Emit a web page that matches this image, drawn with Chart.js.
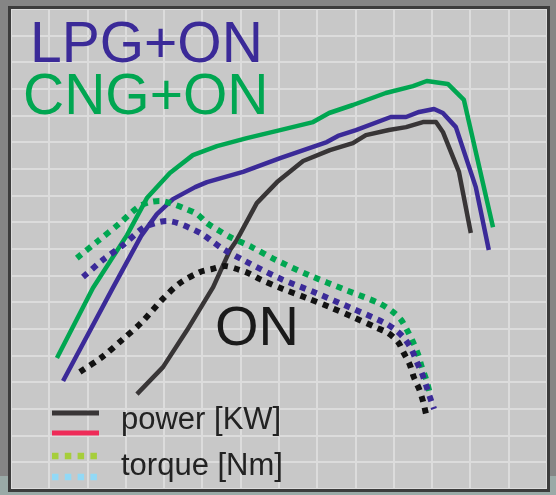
<!DOCTYPE html>
<html>
<head>
<meta charset="utf-8">
<script src="https://cdn.jsdelivr.net/npm/chart.js@4"></script>
<style>
  html, body { margin: 0; padding: 0; background: #858585; }
  canvas { display: block; }
</style>
</head>
<body>
<canvas id="c" width="556" height="495"></canvas>
<script>
// Values in grid units (x: 14 columns, y: 18 rows)
const cngPowerX = [1.20, 2.14, 3.03, 3.55, 4.15, 4.75, 5.38, 6.16, 7.03, 7.89, 8.31, 8.93, 9.79, 10.50, 10.86, 11.41, 11.83, 12.59];
const cngPowerY = [4.91, 7.54, 9.52, 10.91, 11.85, 12.52, 12.86, 13.16, 13.46, 13.76, 14.10, 14.40, 14.85, 15.11, 15.30, 15.19, 14.59, 9.82];

const lpgPowerX = [1.36, 2.66, 3.40, 3.81, 4.23, 4.81, 5.12, 6.06, 7.03, 8.25, 8.54, 9.01, 9.92, 10.32, 10.66, 11.05, 11.28, 11.62, 12.14, 12.48];
const lpgPowerY = [4.05, 7.54, 9.49, 10.31, 10.87, 11.32, 11.51, 11.89, 12.41, 13.01, 13.24, 13.46, 13.95, 13.95, 14.14, 14.25, 14.10, 13.57, 11.32, 8.96];

const onPowerX = [3.29, 3.97, 4.60, 5.28, 5.72, 5.90, 6.42, 6.95, 7.63, 8.33, 8.93, 9.27, 9.87, 10.32, 10.76, 11.10, 11.28, 11.70, 12.01];
const onPowerY = [3.56, 4.57, 5.96, 7.57, 8.96, 9.34, 10.72, 11.51, 12.30, 12.71, 12.97, 13.27, 13.46, 13.57, 13.76, 13.76, 13.39, 11.89, 9.60];

const cngTorqueX = [1.72, 2.27, 2.82, 3.32, 3.63, 3.94, 4.23, 4.57, 4.86, 5.12, 5.41, 5.72, 6.29, 6.92, 7.78, 8.75, 9.61, 9.95, 10.19, 10.37, 10.50, 10.63, 10.73, 10.84, 10.94];
const cngTorqueY = [8.66, 9.30, 9.94, 10.57, 10.76, 10.80, 10.69, 10.50, 10.31, 9.97, 9.71, 9.45, 9.07, 8.59, 8.02, 7.46, 6.97, 6.67, 6.34, 5.89, 5.51, 5.06, 4.57, 4.12, 3.60];

const lpgTorqueX = [1.88, 2.40, 2.93, 3.45, 3.76, 4.07, 4.36, 4.67, 4.99, 5.28, 5.54, 6.11, 7.00, 7.97, 8.88, 9.77, 10.08, 10.29, 10.47, 10.60, 10.73, 10.84, 10.94, 11.05];
const lpgTorqueY = [7.95, 8.59, 9.15, 9.79, 9.97, 10.05, 9.97, 9.79, 9.56, 9.26, 9.00, 8.55, 7.91, 7.35, 6.79, 6.22, 5.92, 5.62, 5.21, 4.76, 4.35, 3.90, 3.45, 3.00];

const onTorqueX = [1.80, 2.38, 2.90, 3.42, 3.94, 4.41, 4.94, 5.25, 5.59, 5.90, 6.19, 6.50, 7.10, 7.73, 8.33, 8.93, 9.56, 9.85, 10.11, 10.26, 10.42, 10.52, 10.66, 10.76, 10.84];
const onTorqueY = [4.39, 4.95, 5.59, 6.26, 7.09, 7.72, 8.14, 8.25, 8.36, 8.25, 8.10, 7.87, 7.50, 7.16, 6.82, 6.45, 6.04, 5.85, 5.51, 5.10, 4.65, 4.20, 3.75, 3.30, 2.81];

const labelLPG = "LPG+ON";
const labelCNG = "CNG+ON";
const labelON = "ON";
const legendPower = "power [KW]";
const legendTorque = "torque [Nm]";

const GREEN = '#00a651';
const BLUE = '#3b2a98';
const DARK = '#383536';
const BLACK = '#121212';

function pts(xs, ys) { return xs.map((x, i) => ({ x: x, y: ys[i] })); }

function solid(label, xs, ys, color) {
  return { label, data: pts(xs, ys), borderColor: color, borderWidth: 4.5, pointRadius: 0, tension: 0, fill: false, borderCapStyle: 'butt', borderJoinStyle: 'round' };
}
function dotted(label, xs, ys, color) {
  return { label, data: pts(xs, ys), borderColor: color, borderWidth: 6, borderDash: [6, 6], pointRadius: 0, tension: 0.3, fill: false, borderCapStyle: 'butt' };
}

const bgPlugin = {
  id: 'bg',
  beforeDraw(chart) {
    const ctx = chart.ctx, a = chart.chartArea;
    ctx.save();
    ctx.fillStyle = '#858585';
    ctx.fillRect(0, 0, chart.width, chart.height);
    ctx.fillStyle = '#9aaaa7';
    ctx.fillRect(0, 476, chart.width, chart.height - 476);
    ctx.fillStyle = '#c8c8c8';
    ctx.fillRect(a.left, a.top, a.right - a.left, a.bottom - a.top);
    ctx.restore();
  },
  afterDraw(chart) {
    const ctx = chart.ctx, a = chart.chartArea;
    ctx.save();
    // texts
    ctx.textAlign = 'left';
    ctx.textBaseline = 'alphabetic';
    ctx.font = '57px "Liberation Sans", Arial, sans-serif';
    ctx.fillStyle = BLUE;
    ctx.fillText(labelLPG, 30, 62);
    ctx.fillStyle = GREEN;
    ctx.fillText(labelCNG, 23, 114);
    ctx.font = '56px "Liberation Sans", Arial, sans-serif';
    ctx.fillStyle = '#1a1a1a';
    ctx.fillText(labelON, 215, 345);

    // legend
    ctx.lineCap = 'butt';
    ctx.lineWidth = 5;
    ctx.strokeStyle = DARK;
    ctx.beginPath(); ctx.moveTo(52, 413); ctx.lineTo(99, 413); ctx.stroke();
    ctx.strokeStyle = '#ee2b58';
    ctx.beginPath(); ctx.moveTo(52, 433); ctx.lineTo(99, 433); ctx.stroke();
    ctx.lineWidth = 6.5;
    ctx.setLineDash([6.5, 6.3]);
    ctx.strokeStyle = '#a6ce3b';
    ctx.beginPath(); ctx.moveTo(52, 456); ctx.lineTo(99, 456); ctx.stroke();
    ctx.strokeStyle = '#92d9f6';
    ctx.beginPath(); ctx.moveTo(52, 477); ctx.lineTo(99, 477); ctx.stroke();
    ctx.setLineDash([]);
    ctx.font = '31px "Liberation Sans", Arial, sans-serif';
    ctx.fillStyle = '#222222';
    ctx.fillText(legendPower, 121, 429);
    ctx.fillText(legendTorque, 121, 475);

    // frame
    ctx.strokeStyle = '#3c3c3c';
    ctx.lineWidth = 3;
    ctx.strokeRect(a.left - 1.5, a.top - 1.5, (a.right - a.left) + 3, (a.bottom - a.top) + 3);
    ctx.restore();
  }
};

new Chart(document.getElementById('c'), {
  type: 'line',
  data: {
    datasets: [
      dotted('ON torque', onTorqueX, onTorqueY, BLACK),
      dotted('LPG+ON torque', lpgTorqueX, lpgTorqueY, BLUE),
      dotted('CNG+ON torque', cngTorqueX, cngTorqueY, GREEN),
      solid('ON power', onPowerX, onPowerY, DARK),
      solid('LPG+ON power', lpgPowerX, lpgPowerY, BLUE),
      solid('CNG+ON power', cngPowerX, cngPowerY, GREEN)
    ]
  },
  options: {
    responsive: false,
    devicePixelRatio: 1,
    animation: false,
    layout: { padding: { left: 11, top: 9, right: 9, bottom: 6 } },
    plugins: { legend: { display: false }, tooltip: { enabled: false }, title: { display: false } },
    scales: {
      x: {
        type: 'linear', min: 0, max: 14,
        ticks: { display: false, stepSize: 1 },
        grid: { color: '#dcdcdc', lineWidth: 2, drawTicks: false },
        border: { display: false }
      },
      y: {
        type: 'linear', min: 0, max: 18,
        ticks: { display: false, stepSize: 1 },
        grid: { color: '#dcdcdc', lineWidth: 2, drawTicks: false },
        border: { display: false }
      }
    }
  },
  plugins: [bgPlugin]
});
</script>
</body>
</html>
